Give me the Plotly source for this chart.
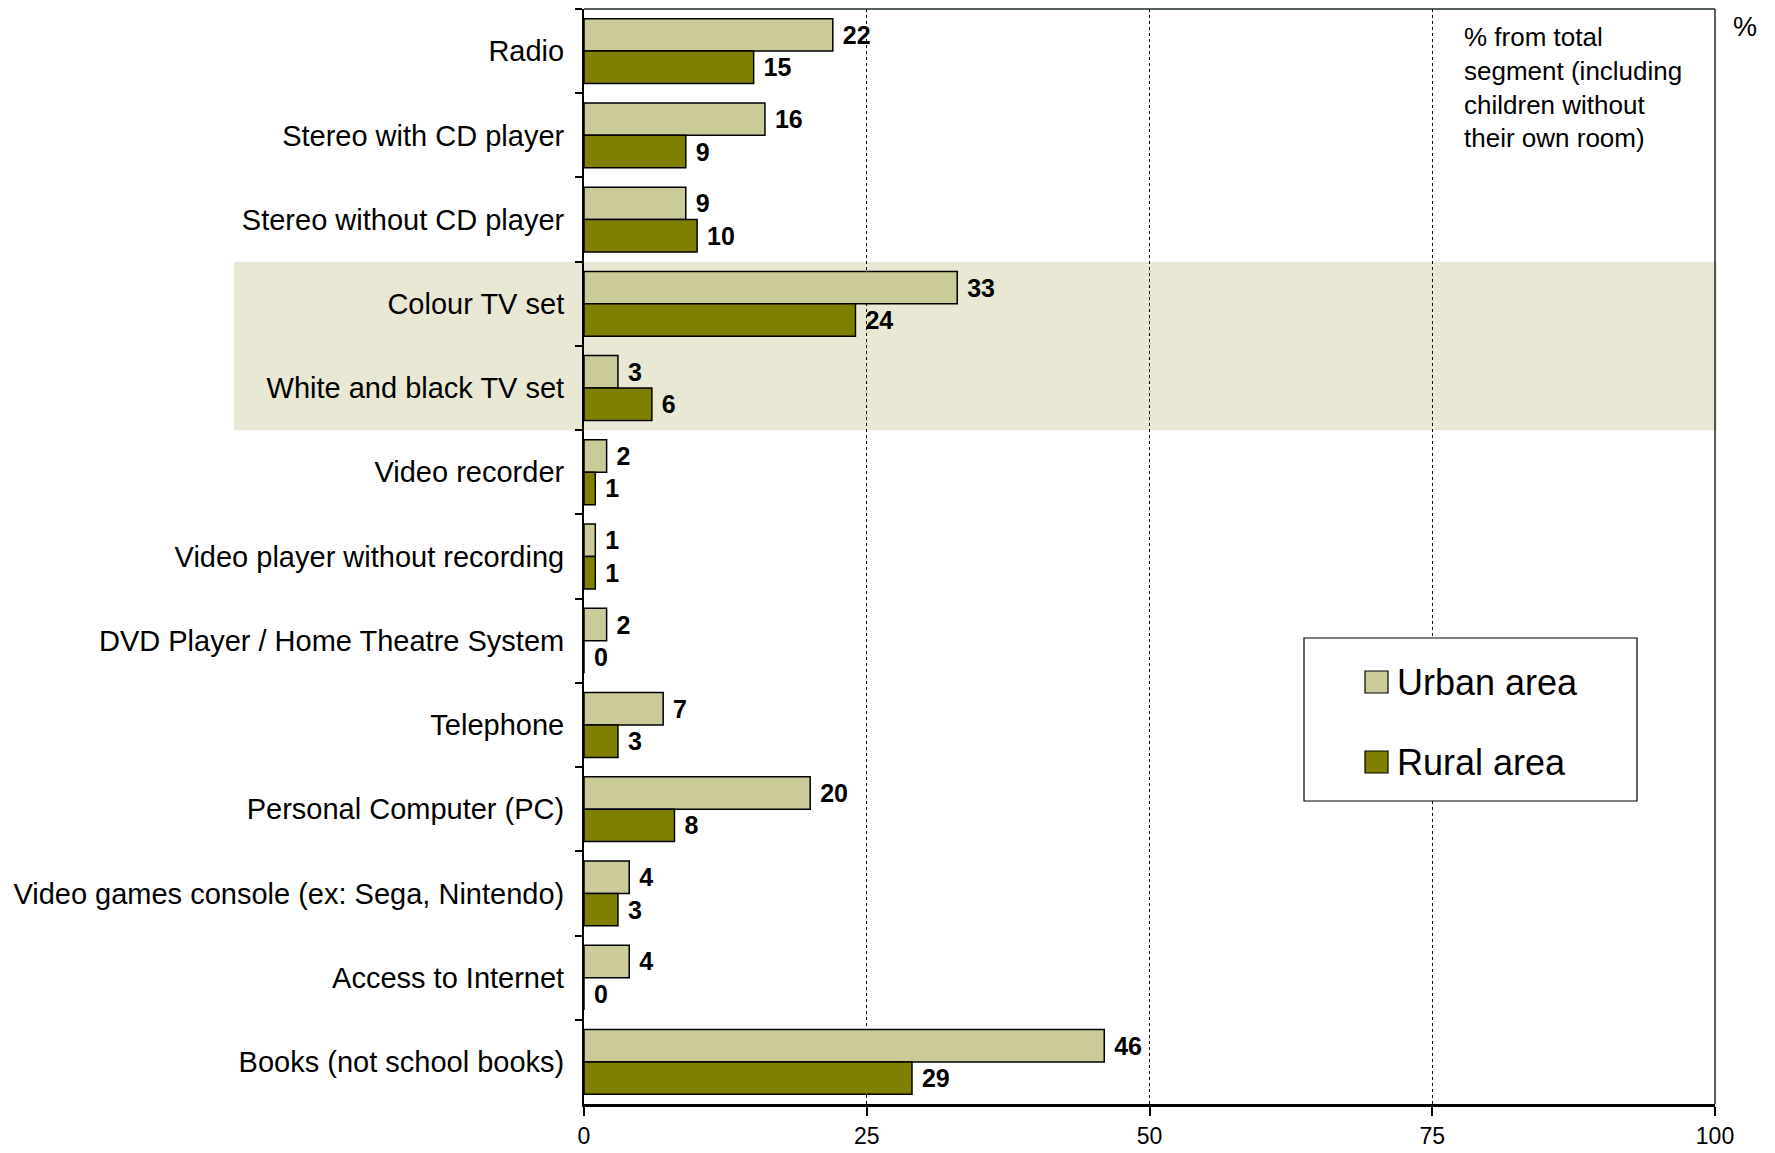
import plotly.graph_objects as go

# Household items available in the child's room
categories = [
    "Radio",
    "Stereo with CD player",
    "Stereo without CD player",
    "Colour TV set",
    "White and black TV set",
    "Video recorder",
    "Video player without recording",
    "DVD Player / Home Theatre System",
    "Telephone",
    "Personal Computer (PC)",
    "Video games console (ex: Sega, Nintendo)",
    "Access to Internet",
    "Books (not school books)",
]
urban = [22, 16, 9, 33, 3, 2, 1, 2, 7, 20, 4, 4, 46]
rural = [15, 9, 10, 24, 6, 1, 1, 0, 3, 8, 3, 0, 29]
series_names = ["Urban area", "Rural area"]
x_ticks = [0, 25, 50, 75, 100]
note_text = "% from total<br>segment (including<br>children without<br>their own room)"
unit_text = "%"

URBAN_COLOR = "#CBCB9A"
RURAL_COLOR = "#808000"
BAND_COLOR = "#E8E8D5"
FONT = "Liberation Sans, Arial, sans-serif"

W, H = 1775, 1153
L, R, T, B = 584, 1715, 9, 1104  # plot area in pixels


def px_x(p):
    return (p - L) / (R - L)


def px_y(p):
    return (B - p) / (B - T)


fig = go.Figure()
for name, vals, color in [(series_names[0], urban, URBAN_COLOR),
                          (series_names[1], rural, RURAL_COLOR)]:
    fig.add_trace(go.Bar(
        y=categories, x=vals, name=name, orientation="h",
        marker=dict(color=color, line=dict(color="black", width=1.5)),
        text=["\u00a0" + str(v) for v in vals], textposition="outside",
        textfont=dict(family=FONT, size=25, color="black", weight="bold"),
        constraintext="none", cliponaxis=False, showlegend=False,
    ))

shapes = [
    # highlighted TV rows
    dict(type="rect", xref="paper", yref="y", x0=px_x(234), x1=px_x(1717),
         y0=2.5, y1=4.5, fillcolor=BAND_COLOR, line=dict(width=0), layer="between"),
    # frame top and right
    dict(type="line", xref="paper", yref="paper", x0=0, x1=1, y0=1, y1=1,
         line=dict(color="#1c2a1c", width=1.5)),
    dict(type="line", xref="paper", yref="paper", x0=1, x1=1, y0=0, y1=1,
         line=dict(color="#1c2a1c", width=1.5)),
    # legend box
    dict(type="rect", xref="paper", yref="paper", x0=px_x(1304), x1=px_x(1637),
         y0=px_y(801), y1=px_y(638), fillcolor="white",
         line=dict(color="black", width=1.2), layer="above"),
]
legend_rows = [(series_names[0], URBAN_COLOR, 682), (series_names[1], RURAL_COLOR, 762)]
annotations = []
for name, color, yc in legend_rows:
    shapes.append(dict(type="rect", xref="paper", yref="paper",
                       x0=px_x(1365), x1=px_x(1388), y0=px_y(yc + 11), y1=px_y(yc - 11),
                       fillcolor=color, line=dict(color="black", width=1.2), layer="above"))
    annotations.append(dict(xref="paper", yref="paper", x=px_x(1395), y=px_y(yc),
                            xanchor="left", yanchor="middle", showarrow=False, text=name,
                            font=dict(family=FONT, size=36, color="black")))

annotations.append(dict(xref="paper", yref="paper", x=px_x(1462), y=px_y(20),
                        xanchor="left", yanchor="top", align="left", showarrow=False,
                        text=note_text, font=dict(family=FONT, size=26, color="black")))
annotations.append(dict(xref="paper", yref="paper", x=px_x(1745), y=px_y(27),
                        xanchor="center", yanchor="middle", showarrow=False,
                        text=unit_text, font=dict(family=FONT, size=27, color="black")))

fig.update_layout(
    width=W, height=H,
    margin=dict(l=L, r=W - R, t=T, b=H - B, pad=0, autoexpand=False),
    paper_bgcolor="white", plot_bgcolor="white",
    barmode="group", bargap=0.23, bargroupgap=0,
    font=dict(family=FONT, color="black"),
    shapes=shapes, annotations=annotations,
    xaxis=dict(range=[0, 100], tickvals=x_ticks, ticks="outside", ticklen=9,
               tickwidth=1.5, tickcolor="black", showline=True, linecolor="black",
               linewidth=2.5, showgrid=True, gridcolor="black", gridwidth=1,
               griddash="dot", zeroline=False, ticklabelstandoff=1, automargin=False,
               tickfont=dict(family=FONT, size=23, color="black")),
    yaxis=dict(categoryorder="array", categoryarray=categories, autorange="reversed",
               tickson="boundaries", ticks="outside", ticklen=7, tickwidth=1.5,
               tickcolor="black", showline=True, linecolor="black", linewidth=2,
               showgrid=False, zeroline=False, ticklabelstandoff=12, automargin=False,
               tickfont=dict(family=FONT, size=29, color="black")),
)

fig.write_html("out.html")
